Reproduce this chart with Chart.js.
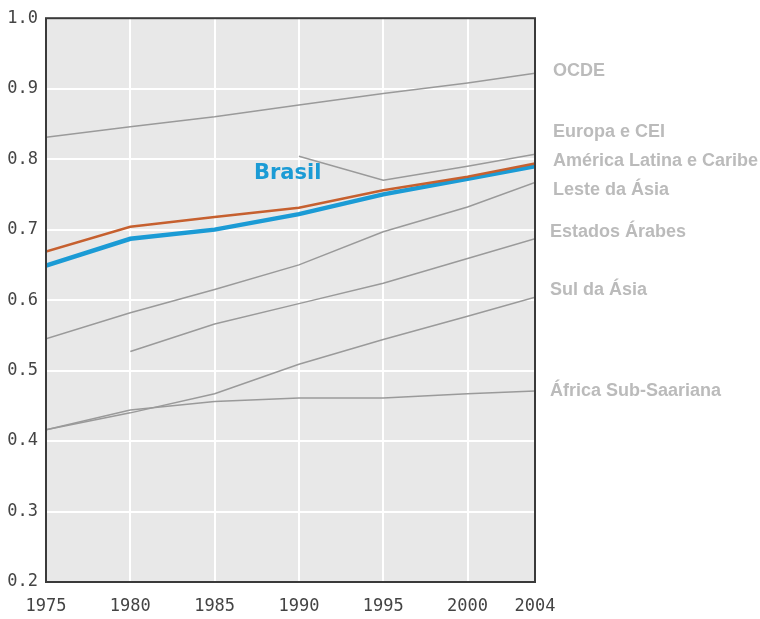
<!DOCTYPE html>
<html>
<head>
<meta charset="utf-8">
<script src="https://cdn.jsdelivr.net/npm/chart.js@4"></script>
<style>
  html, body { margin: 0; padding: 0; background: #fff; }
  #wrap { position: relative; width: 760px; height: 619px; }
  canvas { position: absolute; left: 0; top: 0; }
  .lbl { position: absolute; font-family: "Liberation Sans", Arial, sans-serif; font-weight: bold;
         font-size: 18px; color: #bbbbbb; white-space: nowrap; line-height: 18px; }
  .brasil { position: absolute; font-family: "DejaVu Sans", Verdana, sans-serif; font-weight: bold;
            font-size: 21px; color: #1b9bd5; white-space: nowrap; line-height: 21px; }
</style>
</head>
<body>
<div id="wrap">
  <canvas id="c" width="760" height="619"></canvas>
  <div class="lbl" style="left:553px; top:61px;">OCDE</div>
  <div class="lbl" style="left:553px; top:122px;">Europa e CEI</div>
  <div class="lbl" style="left:553px; top:151px;">América Latina e Caribe</div>
  <div class="lbl" style="left:553px; top:180px;">Leste da Ásia</div>
  <div class="lbl" style="left:550px; top:222px;">Estados Árabes</div>
  <div class="lbl" style="left:550px; top:280px;">Sul da Ásia</div>
  <div class="lbl" style="left:550px; top:381px;">África Sub-Saariana</div>
  <div class="brasil" style="left:254px; top:162px;">Brasil</div>
</div>
<script>
// ---- data ----
const years = [1975, 1980, 1985, 1990, 1995, 2000, 2004];
const yTicks = [0.2, 0.3, 0.4, 0.5, 0.6, 0.7, 0.8, 0.9, 1.0];

const ocde        = [0.831, 0.846, 0.860, 0.877, 0.893, 0.908, 0.922];
const europaCEI   = [null, null, null, 0.804, 0.770, 0.790, 0.807];
const americaLat  = [0.669, 0.704, 0.718, 0.731, 0.756, 0.775, 0.794];
const brasil      = [0.649, 0.687, 0.700, 0.722, 0.750, 0.772, 0.790];
const lesteAsia   = [0.545, 0.582, 0.615, 0.650, 0.697, 0.732, 0.767];
const estadosArab = [null, 0.527, 0.566, 0.595, 0.624, 0.659, 0.687];
const sulAsia     = [0.416, 0.440, 0.467, 0.509, 0.544, 0.577, 0.604];
const africaSub   = [0.416, 0.444, 0.456, 0.461, 0.461, 0.467, 0.471];

function pts(vals) {
  const out = [];
  years.forEach((y, i) => { if (vals[i] !== null) out.push({ x: y, y: vals[i] }); });
  return out;
}

const grayLine = (label, vals) => ({
  label, data: pts(vals), borderColor: '#9a9a9a', borderWidth: 1.5,
  pointRadius: 0, tension: 0, order: 3
});

const bgPlugin = {
  id: 'bg',
  beforeDraw(chart) {
    const { ctx, chartArea: a } = chart;
    ctx.save();
    ctx.fillStyle = '#e8e8e8';
    ctx.fillRect(a.left, a.top, a.right - a.left, a.bottom - a.top);
    ctx.restore();
  },
  afterDatasetsDraw(chart) {
    const { ctx, chartArea: a } = chart;
    ctx.save();
    ctx.strokeStyle = '#3a3a3a';
    ctx.lineWidth = 2;
    ctx.strokeRect(a.left, a.top, a.right - a.left, a.bottom - a.top);
    ctx.restore();
  }
};

new Chart(document.getElementById('c'), {
  type: 'line',
  data: {
    datasets: [
      { label: 'América Latina e Caribe', data: pts(americaLat), borderColor: '#c6602f',
        borderWidth: 2.5, pointRadius: 0, tension: 0, order: 0 },
      { label: 'Brasil', data: pts(brasil), borderColor: '#1b9bd5',
        borderWidth: 4.5, pointRadius: 0, tension: 0, order: 1 },
      grayLine('OCDE', ocde),
      grayLine('Europa e CEI', europaCEI),
      grayLine('Leste da Ásia', lesteAsia),
      grayLine('Estados Árabes', estadosArab),
      grayLine('Sul da Ásia', sulAsia),
      grayLine('África Sub-Saariana', africaSub)
    ]
  },
  options: {
    responsive: false,
    animation: false,
    events: [],
    layout: { padding: { top: 15, right: 225, left: 0, bottom: 0 } },
    plugins: { legend: { display: false }, tooltip: { enabled: false } },
    scales: {
      x: {
        type: 'linear', min: 1975, max: 2004,
        afterBuildTicks(axis) { axis.ticks = years.map(v => ({ value: v })); },
        afterFit(axis) { axis.height = 37; },
        grid: { color: '#ffffff', lineWidth: 2, drawTicks: false },
        border: { display: false },
        ticks: {
          color: '#444444', padding: 14, maxRotation: 0, autoSkip: false,
          font: { family: '"DejaVu Sans Mono", monospace', size: 17 },
          callback: v => String(v)
        }
      },
      y: {
        type: 'linear', min: 0.2, max: 1.0,
        afterBuildTicks(axis) { axis.ticks = yTicks.map(v => ({ value: v })); },
        afterFit(axis) { axis.width = 46; },
        grid: { color: '#ffffff', lineWidth: 2, drawTicks: false },
        border: { display: false },
        ticks: {
          color: '#444444', padding: 8,
          font: { family: '"DejaVu Sans Mono", monospace', size: 17 },
          callback: v => v.toFixed(1)
        }
      }
    }
  },
  plugins: [bgPlugin]
});
</script>
</body>
</html>
